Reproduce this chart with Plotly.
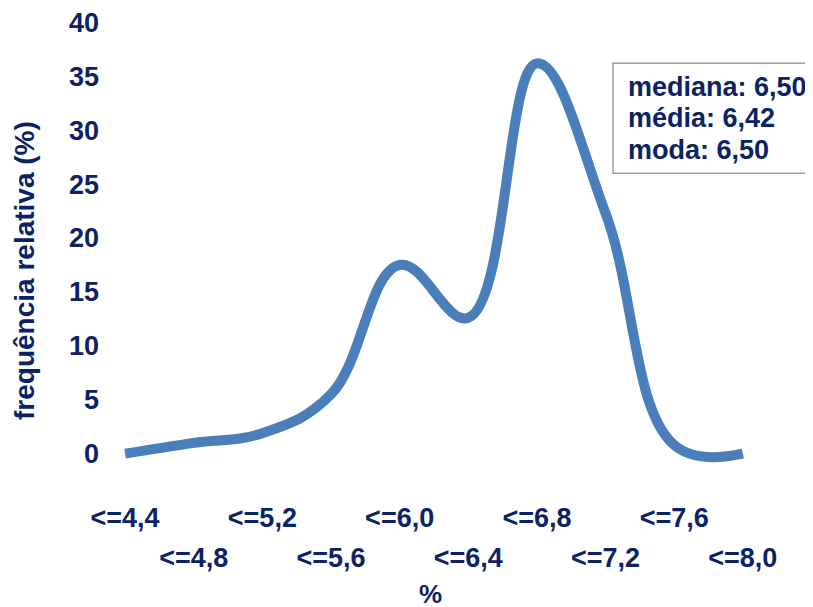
import plotly.graph_objects as go

categories = ["<=4,4", "<=4,8", "<=5,2", "<=5,6", "<=6,0", "<=6,4", "<=6,8", "<=7,2", "<=7,6", "<=8,0"]
freq = [0.0, 1.0, 1.9, 5.5, 17.5, 12.6, 36.2, 22.3, 0.8, 0.0]
y_ticks = [0, 5, 10, 15, 20, 25, 30, 35, 40]
stats_text = ["mediana: 6,50", "média: 6,42", "moda: 6,50"]

NAVY = "#0B2265"
LINE = "#4A7EBB"
FONT = "Liberation Sans, Arial, sans-serif"

xs = list(range(len(categories)))
even = [i for i in xs if i % 2 == 0]
odd = [i for i in xs if i % 2 == 1]

# page is offset by the 8px body margin
OFF = 8
W, H = 813 - OFF, 607 - OFF
# plot area in page pixels
PL, PR, PT, PB = 110, 784, 16.6, 486.4
L, R, T, B = PL - OFF, 813 - PR, PT - OFF, 607 - PB
pw, ph = PR - PL, PB - PT
xr = [-0.22, 9.6]
yr = [-3, 40.5]

def px_x(p):
    return (p - PL) / pw

def px_y(p):
    return (PB - p) / ph

fig = go.Figure()
fig.add_trace(go.Scatter(
    x=xs, y=freq, mode="lines",
    line=dict(color=LINE, width=10, shape="spline", smoothing=1.15),
    hoverinfo="skip", showlegend=False,
))
fig.add_trace(go.Scatter(x=odd, y=[None] * len(odd), xaxis="x2", mode="lines",
                         showlegend=False, hoverinfo="skip"))

tickfont = dict(family=FONT, size=27, color=NAVY, weight="bold")
fig.update_layout(
    width=W, height=H,
    margin=dict(l=L, r=R, t=T, b=B, autoexpand=False),
    paper_bgcolor="white", plot_bgcolor="white",
    xaxis=dict(range=xr, tickmode="array", tickvals=even,
               ticktext=[categories[i] for i in even],
               showgrid=False, zeroline=False, showline=False, ticks="",
               tickfont=tickfont, ticklabelstandoff=13, automargin=False,
               ticklabeloverflow="allow"),
    xaxis2=dict(range=xr, overlaying="x", matches="x", side="bottom",
                tickmode="array", tickvals=odd,
                ticktext=[categories[i] for i in odd],
                showgrid=False, zeroline=False, showline=False, ticks="",
                tickfont=tickfont, ticklabelstandoff=53, automargin=False,
                ticklabeloverflow="allow"),
    yaxis=dict(range=yr, tickmode="array", tickvals=y_ticks,
               ticktext=[str(v) for v in y_ticks],
               showgrid=False, zeroline=False, showline=False, ticks="",
               tickfont=tickfont, ticklabelstandoff=10, automargin=False,
               ticklabeloverflow="allow"),
)

fig.add_annotation(
    text="frequência relativa (%)", textangle=-90,
    xref="paper", yref="paper", x=px_x(25), y=px_y(271),
    xanchor="center", yanchor="middle", showarrow=False,
    font=dict(family=FONT, size=28, color=NAVY, weight="bold"),
)
fig.add_annotation(
    text="%", xref="paper", yref="paper", x=px_x(430), y=px_y(595),
    xanchor="center", yanchor="middle", showarrow=False,
    font=dict(family=FONT, size=26, color=NAVY, weight="bold"),
)
# stats box
fig.add_shape(type="rect", xref="paper", yref="paper",
              x0=px_x(613), x1=px_x(840), y0=px_y(173), y1=px_y(63),
              line=dict(color="#A0A0A0", width=1.5), fillcolor="white", layer="above")
for i, t in enumerate(stats_text):
    fig.add_annotation(
        text=t, xref="paper", yref="paper", x=px_x(626), y=px_y(86.5 + i * 31.75),
        xanchor="left", yanchor="middle", showarrow=False,
        font=dict(family=FONT, size=27, color=NAVY, weight="bold"),
    )

fig.write_html("out.html")
